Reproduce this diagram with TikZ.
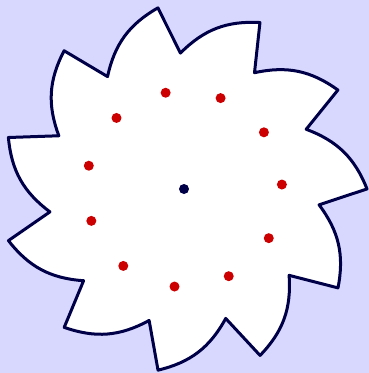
\documentclass[tikz,border=0pt]{standalone}
\usepackage{xcolor}
\usepackage{tikz}

\definecolor{bgblue}{RGB}{216,216,255}
\definecolor{navy}{RGB}{0,0,72}
\definecolor{dotred}{RGB}{204,0,0}

\begin{document}
\begin{tikzpicture}[x=1pt,y=1pt,line join=round]
\tikzstyle{outline}=[draw=navy,line width=3pt,fill=white]
\tikzstyle{reddot}=[fill=dotred]
\tikzstyle{hubdot}=[fill=navy]
% background
\fill[bgblue] (-184,-184) rectangle (185,189);
\useasboundingbox (-184,-184) rectangle (185,189);
% saw blade: curved flank out to the tip, straight cut back in
\draw[outline] (124.2:136)
  \foreach \k in {0,...,10}{
    to[bend left=24] ({98.2-32.727*\k}:183) -- ({91.5-32.727*\k}:136)
  } -- cycle;
\foreach \k in {0,...,10}
  \fill[reddot] ({100.8-32.727*\k}:98) circle (5);
\coordinate (hub) at (0,0);
\fill[hubdot] (hub) circle (5);
\end{tikzpicture}
\end{document}
